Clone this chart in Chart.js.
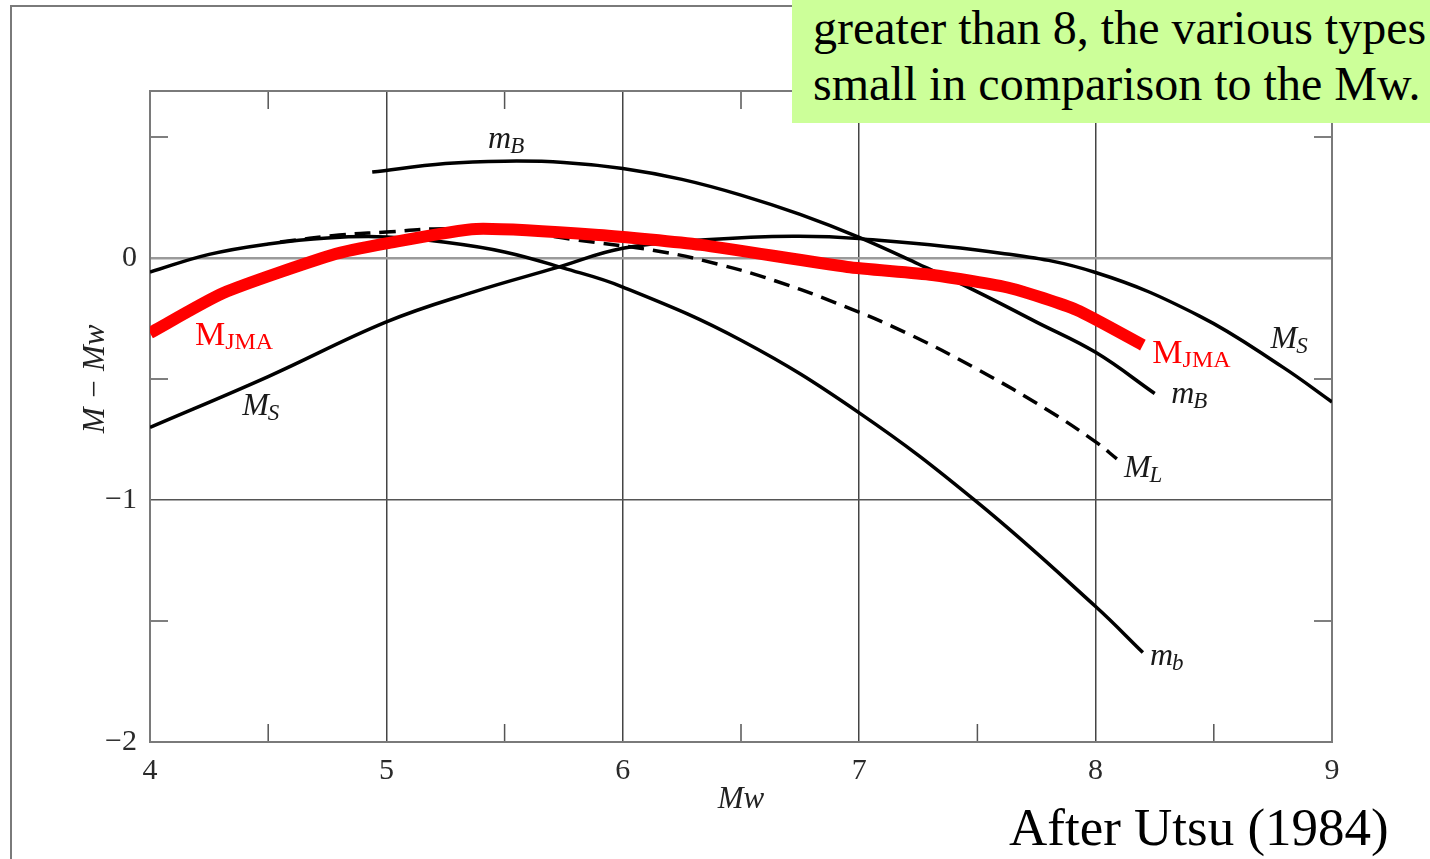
<!DOCTYPE html>
<html>
<head>
<meta charset="utf-8">
<script src="https://cdn.jsdelivr.net/npm/chart.js@4.4.1/dist/chart.umd.min.js"></script>
<style>
  html, body { margin: 0; padding: 0; background: #fff; }
  #wrap { position: relative; width: 1430px; height: 859px; overflow: hidden; }
  #frame { position: absolute; left: 10px; top: 5px; width: 1430px; height: 870px;
           border-left: 2px solid #7a7a7a; border-top: 2px solid #7a7a7a; }
  #chart { position: absolute; left: 0; top: 0; }
  #note { position: absolute; left: 792px; top: 0; width: 638px; height: 123px;
          background: #ccff99; color: #000; box-sizing: border-box; padding-left: 21px;
          font: 48px 'Liberation Serif', 'Times New Roman', serif; line-height: 56px; white-space: nowrap; }
  #credit { position: absolute; left: 1009px; top: 801px; color: #000;
            font: 53px 'Liberation Serif', 'Times New Roman', serif; line-height: 52px; white-space: nowrap; }
</style>
</head>
<body>
<div id="wrap">
  <div id="frame"></div>
  <canvas id="chart" width="1430" height="859"></canvas>
  <div id="note">greater than 8, the various types<br>small in comparison to the Mw.</div>
  <div id="credit">After Utsu (1984)</div>
</div>
<script>
// values: M - Mw against Mw
const mjmaX = [4.0, 4.31, 4.77, 5.0, 5.38, 5.9, 6.33, 6.95, 7.31, 7.64, 7.92, 8.2];
const mjmaY = [-0.31, -0.145, 0.012, 0.06, 0.12, 0.095, 0.054, -0.037, -0.07, -0.125, -0.215, -0.36];

const mbSmallX = [4.0, 4.25, 4.5, 4.75, 5.0, 5.25, 5.5, 5.75, 6.0, 6.5, 7.0, 7.5, 8.0, 8.2];
const mbSmallY = [-0.058, 0.015, 0.058, 0.083, 0.087, 0.065, 0.025, -0.042, -0.12, -0.34, -0.64, -1.01, -1.44, -1.63];

const mlX = [4.55, 4.8, 5.0, 5.2, 5.5, 5.8, 6.17, 6.4, 6.6, 6.9, 7.2, 7.5, 7.8, 8.0, 8.09];
const mlY = [0.066, 0.095, 0.107, 0.12, 0.115, 0.075, 0.025, -0.025, -0.08, -0.185, -0.31, -0.46, -0.63, -0.76, -0.83];

const msX = [4.0, 4.5, 5.0, 5.37, 5.72, 6.0, 6.35, 6.72, 7.0, 7.6, 8.0, 8.44, 8.79, 9.0];
const msY = [-0.70, -0.49, -0.264, -0.14, -0.04, 0.04, 0.075, 0.09, 0.08, 0.02, -0.06, -0.24, -0.45, -0.595];

const mBigX = [4.94, 5.25, 5.5, 5.75, 6.0, 6.25, 6.5, 6.75, 7.0, 7.25, 7.5, 7.75, 8.0, 8.25];
const mBigY = [0.355, 0.39, 0.40, 0.395, 0.37, 0.325, 0.26, 0.18, 0.085, -0.025, -0.14, -0.265, -0.39, -0.56];

// axes
const mwMajor = [5, 6, 7, 8];
const mwMinor = [4.5, 5.5, 6.5, 7.5, 8.5];
const dmMinor = [0.5, -0.5, -1.5];

// curve names, anchored in data units (left end of text, baseline)
const tags = [
  { main: 'm', sub: 'B', x: 5.43, y: 0.455 },
  { main: 'M', sub: 'S', x: 4.39, y: -0.65 },
  { main: 'M', sub: 'S', x: 8.74, y: -0.372 },
  { main: 'm', sub: 'B', x: 8.32, y: -0.60 },
  { main: 'M', sub: 'L', x: 8.12, y: -0.905 },
  { main: 'm', sub: 'b', x: 8.23, y: -1.68 },
  { main: 'M', sub: 'JMA', x: 4.19, y: -0.36, red: true },
  { main: 'M', sub: 'JMA', x: 8.24, y: -0.434, red: true }
];

const SERIF = "'Liberation Serif', 'Times New Roman', serif";
const pts = (xs, ys) => xs.map((x, i) => ({ x: x, y: ys[i] }));
const fmt = v => String(v).replace('-', '\u2212');

const frameTicks = {
  id: 'frameTicks',
  beforeDatasetsDraw(chart) {
    const { ctx, chartArea: a, scales: { x, y } } = chart;
    ctx.save();
    ctx.strokeStyle = '#555';
    ctx.lineWidth = 1.5;
    ctx.beginPath();
    mwMinor.forEach(v => {
      const px = x.getPixelForValue(v);
      ctx.moveTo(px, a.top); ctx.lineTo(px, a.top + 18);
      ctx.moveTo(px, a.bottom); ctx.lineTo(px, a.bottom - 18);
    });
    dmMinor.forEach(v => {
      const py = y.getPixelForValue(v);
      ctx.moveTo(a.left, py); ctx.lineTo(a.left + 18, py);
      ctx.moveTo(a.right, py); ctx.lineTo(a.right - 18, py);
    });
    ctx.stroke();
    ctx.strokeStyle = '#7a7a7a';
    ctx.lineWidth = 2;
    ctx.strokeRect(a.left, a.top, a.right - a.left, a.bottom - a.top);
    ctx.restore();
  }
};

const curveTags = {
  id: 'curveTags',
  afterDatasetsDraw(chart) {
    const { ctx, chartArea: a, scales: { x, y } } = chart;
    ctx.save();
    ctx.textBaseline = 'alphabetic';
    ctx.textAlign = 'left';
    tags.forEach(t => {
      const px = x.getPixelForValue(t.x);
      const py = y.getPixelForValue(t.y);
      if (t.red) {
        ctx.fillStyle = '#ff0000';
        ctx.font = '34px ' + SERIF;
        ctx.fillText(t.main, px, py);
        const w = ctx.measureText(t.main).width;
        ctx.font = '24px ' + SERIF;
        ctx.fillText(t.sub, px + w, py + 4);
      } else {
        ctx.fillStyle = '#1a1a1a';
        ctx.font = 'italic 32px ' + SERIF;
        ctx.fillText(t.main, px, py);
        const w = ctx.measureText(t.main).width;
        ctx.font = 'italic 23px ' + SERIF;
        ctx.fillText(t.sub, px + w - 1, py + 5);
      }
    });
    // y axis title
    ctx.translate(a.left - 54, y.getPixelForValue(-0.5));
    ctx.rotate(-Math.PI / 2);
    ctx.textAlign = 'center';
    ctx.textBaseline = 'middle';
    ctx.fillStyle = '#222';
    ctx.font = 'italic 31px ' + SERIF;
    ctx.fillText('M \u2212 Mw', 0, 0);
    ctx.restore();
  }
};

const black = { borderColor: '#000', borderWidth: 3.5, showLine: true, pointRadius: 0, tension: 0.4 };

new Chart(document.getElementById('chart'), {
  type: 'scatter',
  data: {
    datasets: [
      { label: 'MJMA', data: pts(mjmaX, mjmaY), borderColor: '#ff0000', borderWidth: 12,
        showLine: true, pointRadius: 0, tension: 0.2, order: 0 },
      Object.assign({ label: 'mB', data: pts(mBigX, mBigY), order: 1 }, black),
      Object.assign({ label: 'MS', data: pts(msX, msY), order: 2 }, black),
      Object.assign({ label: 'ML', data: pts(mlX, mlY), borderDash: [16, 9], order: 3 }, black),
      Object.assign({ label: 'mb', data: pts(mbSmallX, mbSmallY), order: 4 }, black)
    ]
  },
  options: {
    responsive: false,
    animation: false,
    layout: { padding: { top: 91, right: 98, left: 0, bottom: 0 } },
    plugins: { legend: { display: false }, tooltip: { enabled: false } },
    scales: {
      x: {
        type: 'linear', min: 4, max: 9,
        afterFit: s => { s.height = 117; },
        border: { display: false },
        grid: {
          drawTicks: false,
          color: c => mwMajor.includes(c.tick && c.tick.value) ? '#444' : 'rgba(0,0,0,0)',
          lineWidth: 1.5
        },
        ticks: {
          stepSize: 0.5, autoSkip: false, maxRotation: 0, padding: 11,
          color: '#2a2a2a', font: { family: SERIF, size: 30 },
          callback: v => Number.isInteger(v) ? fmt(v) : ''
        },
        title: { display: true, text: 'Mw', color: '#222',
                 font: { family: SERIF, size: 31, style: 'italic' }, padding: { bottom: 41 } }
      },
      y: {
        type: 'linear', min: -2, max: 0.69,
        afterFit: s => { s.width = 150; },
        border: { display: false },
        grid: {
          drawTicks: false,
          color: c => {
            const v = c.tick && c.tick.value;
            if (v === 0) return '#9a9a9a';
            if (v === -1) return '#555';
            return 'rgba(0,0,0,0)';
          },
          lineWidth: c => (c.tick && c.tick.value === 0) ? 2.5 : 1.5
        },
        ticks: {
          stepSize: 0.5, autoSkip: false, padding: 13,
          color: '#2a2a2a', font: { family: SERIF, size: 30 },
          callback: v => Number.isInteger(v) ? fmt(v) : ''
        }
      }
    }
  },
  plugins: [frameTicks, curveTags]
});
</script>
</body>
</html>
